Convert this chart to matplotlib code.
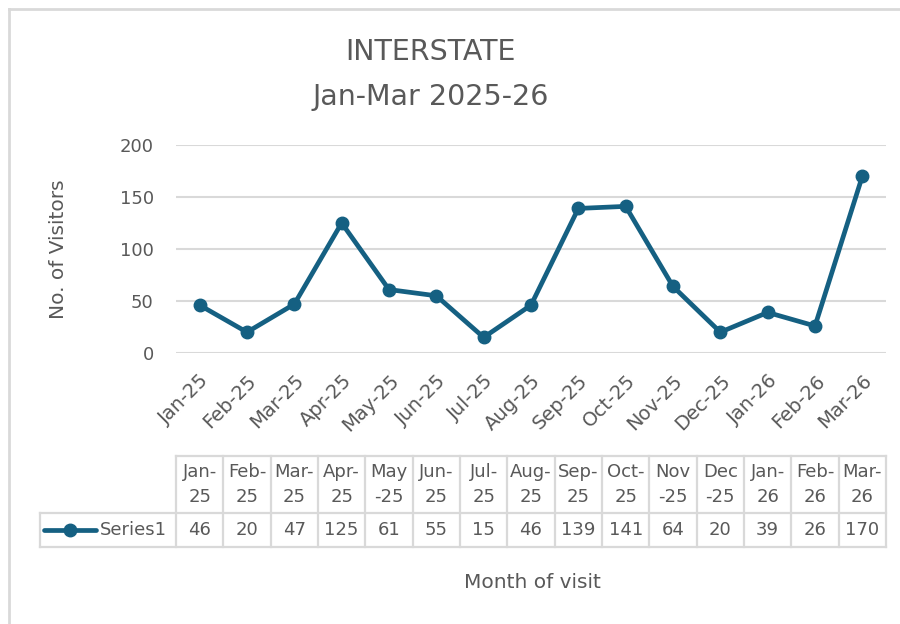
import matplotlib
matplotlib.use("Agg")
import matplotlib.pyplot as plt
import matplotlib.transforms as mtransforms
from matplotlib.lines import Line2D

# data
months = ["Jan-25", "Feb-25", "Mar-25", "Apr-25", "May-25", "Jun-25", "Jul-25", "Aug-25",
          "Sep-25", "Oct-25", "Nov-25", "Dec-25", "Jan-26", "Feb-26", "Mar-26"]
table_headers = ["Jan-\n25", "Feb-\n25", "Mar-\n25", "Apr-\n25", "May\n-25", "Jun-\n25", "Jul-\n25",
                 "Aug-\n25", "Sep-\n25", "Oct-\n25", "Nov\n-25", "Dec\n-25", "Jan-\n26", "Feb-\n26", "Mar-\n26"]
visitors = [46, 20, 47, 125, 61, 55, 15, 46, 139, 141, 64, 20, 39, 26, 170]
series_name = "Series1"

plt.rcParams['font.family'] = ['DejaVu Sans']
line_col = '#156082'
text_col = '#595959'
grid_col = '#D9D9D9'

W, H = 900, 624
fig = plt.figure(figsize=(9, 6.24), dpi=100)
ax = fig.add_axes([176 / W, 1 - 353 / H, (886 - 176) / W, (353 - 145) / H])

x = list(range(len(months)))
ax.plot(x, visitors, color=line_col, lw=3.4, marker='o', ms=9, solid_capstyle='round', zorder=3)
ax.set_xlim(-0.5, len(months) - 0.5)
ax.set_ylim(0, 200)
ax.set_yticks([0, 50, 100, 150, 200])
ax.yaxis.grid(True, color=grid_col, lw=1.5)
ax.set_axisbelow(True)
for s in ax.spines.values():
    s.set_visible(False)
ax.tick_params(length=0, colors=text_col, labelsize=13)
ax.tick_params(axis='y', pad=16)
ax.set_xticks(x)
ax.set_xticklabels(months, rotation=45, ha='right', rotation_mode='anchor', fontsize=14)
ax.tick_params(axis='x', pad=13)

# title and axis titles
fig.text(431 / W, 1 - 52 / H, "INTERSTATE", ha='center', va='center', fontsize=20.5, color=text_col)
fig.text(431 / W, 1 - 97 / H, "Jan-Mar 2025-26", ha='center', va='center', fontsize=20.5, color=text_col)
fig.text(58 / W, 1 - 249 / H, "No. of Visitors", rotation=90, ha='center', va='center',
         fontsize=14.5, color=text_col)
fig.text(532 / W, 1 - 582 / H, "Month of visit", ha='center', va='center', fontsize=14.5, color=text_col)

# data table under the axis
tr = mtransforms.blended_transform_factory(ax.transData, fig.transFigure)
y_top, y_mid, y_bot = 1 - 456 / H, 1 - 513 / H, 1 - 547 / H
lw_t = 1.6
x0, x1 = -0.5, len(months) - 0.5
fig.add_artist(Line2D([x0, x1], [y_top, y_top], transform=tr, color=grid_col, lw=lw_t))
for yy in (y_mid, y_bot):
    fig.add_artist(Line2D([40 / W, 886 / W], [yy, yy], transform=fig.transFigure, color=grid_col, lw=lw_t))
for i in range(len(months) + 1):
    fig.add_artist(Line2D([i - 0.5, i - 0.5], [y_top, y_bot], transform=tr, color=grid_col, lw=lw_t))
fig.add_artist(Line2D([40 / W, 40 / W], [y_mid, y_bot], transform=fig.transFigure, color=grid_col, lw=lw_t))
for i, (hd, v) in enumerate(zip(table_headers, visitors)):
    fig.text(i, (y_top + y_mid) / 2, hd, transform=tr, ha='center', va='center',
             fontsize=13, color=text_col, linespacing=1.45)
    fig.text(i, (y_mid + y_bot) / 2, str(v), transform=tr, ha='center', va='center',
             fontsize=13, color=text_col)
# legend key in the table
ym = (y_mid + y_bot) / 2
fig.add_artist(Line2D([44 / W, 96 / W], [ym, ym], transform=fig.transFigure, color=line_col, lw=3.4,
                      solid_capstyle='round'))
fig.add_artist(Line2D([70 / W], [ym], transform=fig.transFigure, color=line_col, marker='o', ms=9))
fig.text(100 / W, ym, series_name, ha='left', va='center', fontsize=13, color=text_col)

# chart frame (cropped at right and bottom)
fig.add_artist(Line2D([9 / W, 1], [1 - 9 / H, 1 - 9 / H], transform=fig.transFigure, color=grid_col, lw=2))
fig.add_artist(Line2D([9 / W, 9 / W], [0, 1 - 9 / H], transform=fig.transFigure, color=grid_col, lw=2))

fig.savefig("out.png", dpi=100)
